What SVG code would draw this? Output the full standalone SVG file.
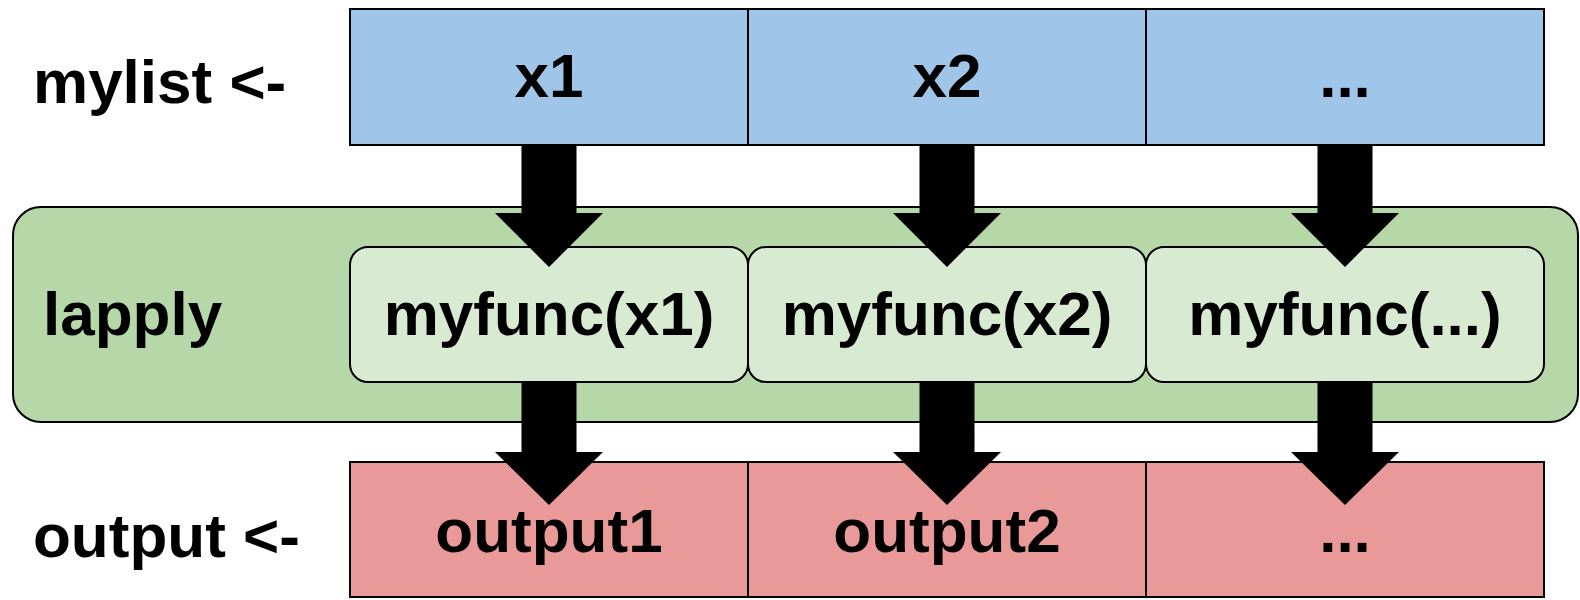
<svg xmlns="http://www.w3.org/2000/svg" width="1580" height="600" viewBox="0 0 1580 600">
<style>
text{font-family:"Liberation Sans",Arial,sans-serif;font-weight:bold;font-size:62px;fill:#000}
.c{text-anchor:middle}
.blue{fill:#9fc5e8;stroke:#000;stroke-width:2}
.red{fill:#ea9999;stroke:#000;stroke-width:2}
.green{fill:#b6d7a8;stroke:#000;stroke-width:2}
.lgreen{fill:#d9ead3;stroke:#000;stroke-width:2}
.arrow{fill:#000}
</style>
<rect width="1580" height="600" fill="#fff"/>
<g id="label-mylist"><text x="33" y="103">mylist &lt;-</text></g>
<g id="label-output"><text x="33" y="557">output &lt;-</text></g>
<g id="lapply">
<rect class="green" x="13" y="207" width="1565" height="215" rx="28"/>
<text x="43" y="335">lapply</text>
</g>
<g id="in-x1"><rect class="blue" x="350" y="9" width="398" height="136"/><text class="c" x="549" y="97">x1</text></g>
<g id="in-x2"><rect class="blue" x="748" y="9" width="398" height="136"/><text class="c" x="947" y="97">x2</text></g>
<g id="in-etc"><rect class="blue" x="1146" y="9" width="398" height="136"/><text class="c" x="1345" y="97">...</text></g>
<g id="f-x1"><rect class="lgreen" x="350" y="247" width="398" height="135" rx="18"/><text class="c" x="549" y="335">myfunc(x1)</text></g>
<g id="f-x2"><rect class="lgreen" x="748" y="247" width="398" height="135" rx="18"/><text class="c" x="947" y="335">myfunc(x2)</text></g>
<g id="f-etc"><rect class="lgreen" x="1146" y="247" width="398" height="135" rx="18"/><text class="c" x="1345" y="335">myfunc(...)</text></g>
<g id="out-1"><rect class="red" x="350" y="462" width="398" height="135"/><text class="c" x="549" y="552">output1</text></g>
<g id="out-2"><rect class="red" x="748" y="462" width="398" height="135"/><text class="c" x="947" y="552">output2</text></g>
<g id="out-etc"><rect class="red" x="1146" y="462" width="398" height="135"/><text class="c" x="1345" y="552">...</text></g>
<g id="connectors">
<path class="arrow" d="M521.5,145H576.5V213H603L549,267L495,213H521.5Z"/>
<path class="arrow" d="M919.5,145H974.5V213H1001L947,267L893,213H919.5Z"/>
<path class="arrow" d="M1317.5,145H1372.5V213H1399L1345,267L1291,213H1317.5Z"/>
<path class="arrow" d="M521.5,382H576.5V452H603L549,505L495,452H521.5Z"/>
<path class="arrow" d="M919.5,382H974.5V452H1001L947,505L893,452H919.5Z"/>
<path class="arrow" d="M1317.5,382H1372.5V452H1399L1345,505L1291,452H1317.5Z"/>
</g>
</svg>
